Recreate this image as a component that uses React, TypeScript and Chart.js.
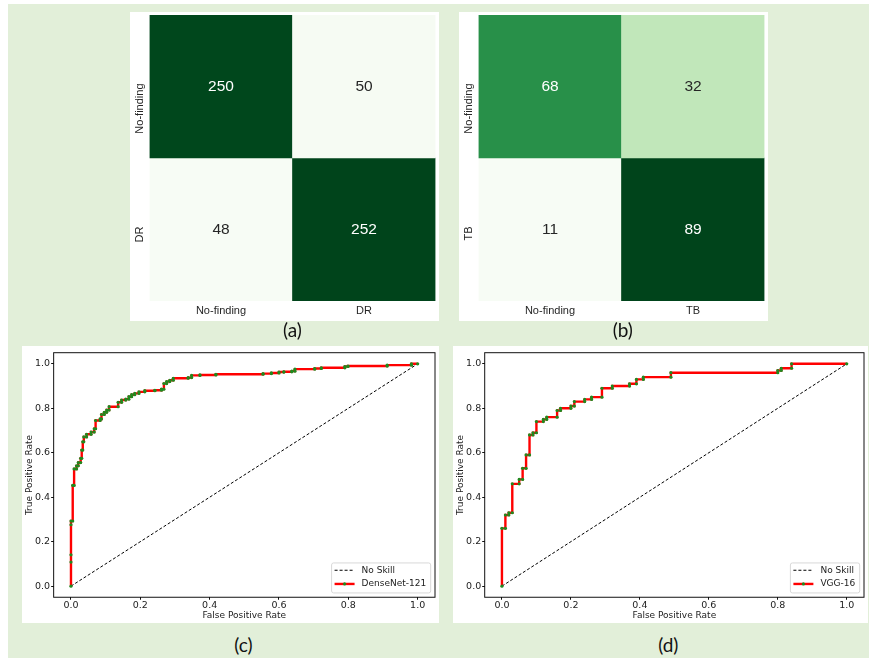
import React, { useEffect, useRef } from 'react';
import { Chart, registerables } from 'chart.js';

Chart.register(...registerables);

// ---------- data ----------
const cmARowLabels = ['No-finding', 'DR'];
const cmAColLabels = ['No-finding', 'DR'];
const cmAValues = [
  [250, 50],
  [48, 252],
];

const cmBRowLabels = ['No-finding', 'TB'];
const cmBColLabels = ['No-finding', 'TB'];
const cmBValues = [
  [68, 32],
  [11, 89],
];

const rocTicks = [0, 0.2, 0.4, 0.6, 0.8, 1.0];
const noSkillFpr = [0, 1];
const noSkillTpr = [0, 1];

const densenetLabel = 'DenseNet-121';
const densenetFpr = [
  0, 0, 0, 0, 0,
  0.005, 0.005, 0.009, 0.009, 0.016, 0.016, 0.021, 0.021, 0.028, 0.028,
  0.031, 0.031, 0.034, 0.034, 0.037, 0.037, 0.045, 0.045, 0.058, 0.058,
  0.067, 0.067, 0.071, 0.071, 0.084, 0.084, 0.088, 0.088, 0.096, 0.096,
  0.103, 0.103, 0.110, 0.110, 0.136, 0.136, 0.146, 0.146, 0.158, 0.158,
  0.167, 0.167, 0.175, 0.175, 0.184, 0.184, 0.196, 0.196, 0.213, 0.213,
  0.242, 0.242, 0.261, 0.261, 0.268, 0.268, 0.276, 0.276, 0.285, 0.285,
  0.295, 0.295, 0.338, 0.338, 0.348, 0.348, 0.372, 0.372, 0.418, 0.418,
  0.554, 0.554, 0.578, 0.578, 0.600, 0.600, 0.614, 0.614, 0.637, 0.637,
  0.646, 0.646, 0.703, 0.703, 0.722, 0.722, 0.790, 0.790, 0.799, 0.799,
  0.912, 0.912, 0.982, 0.982, 1.0,
];
const densenetTpr = [
  0, 0.108, 0.141, 0.276, 0.293,
  0.293, 0.453, 0.453, 0.527, 0.527, 0.541, 0.541, 0.556, 0.556, 0.575,
  0.575, 0.612, 0.612, 0.649, 0.649, 0.671, 0.671, 0.683, 0.683, 0.693,
  0.693, 0.708, 0.708, 0.745, 0.745, 0.752, 0.752, 0.772, 0.772, 0.782,
  0.782, 0.792, 0.792, 0.807, 0.807, 0.827, 0.827, 0.837, 0.837, 0.841,
  0.841, 0.852, 0.852, 0.861, 0.861, 0.867, 0.867, 0.874, 0.874, 0.879,
  0.879, 0.881, 0.881, 0.886, 0.886, 0.911, 0.911, 0.920, 0.920, 0.926,
  0.926, 0.935, 0.935, 0.938, 0.938, 0.948, 0.948, 0.950, 0.950, 0.953,
  0.953, 0.956, 0.956, 0.959, 0.959, 0.963, 0.963, 0.964, 0.964, 0.967,
  0.967, 0.976, 0.976, 0.979, 0.979, 0.982, 0.982, 0.988, 0.988, 0.990,
  0.990, 0.994, 0.994, 1.0, 1.0,
];

const vggLabel = 'VGG-16';
const vggFpr = [
  0, 0, 0.01, 0.01, 0.02, 0.02, 0.03, 0.03, 0.05, 0.05, 0.06, 0.06, 0.07, 0.07,
  0.08, 0.08, 0.09, 0.09, 0.10, 0.10, 0.12, 0.12, 0.13, 0.13, 0.16, 0.16, 0.17, 0.17,
  0.20, 0.20, 0.21, 0.21, 0.24, 0.24, 0.26, 0.26, 0.29, 0.29, 0.32, 0.32, 0.37, 0.37,
  0.39, 0.39, 0.41, 0.41, 0.49, 0.49, 0.80, 0.80, 0.81, 0.81, 0.84, 0.84, 1.0,
];
const vggTpr = [
  0, 0.26, 0.26, 0.32, 0.32, 0.33, 0.33, 0.46, 0.46, 0.48, 0.48, 0.53, 0.53, 0.59,
  0.59, 0.68, 0.68, 0.69, 0.69, 0.74, 0.74, 0.75, 0.75, 0.76, 0.76, 0.79, 0.79, 0.80,
  0.80, 0.81, 0.81, 0.83, 0.83, 0.84, 0.84, 0.85, 0.85, 0.89, 0.89, 0.90, 0.90, 0.91,
  0.91, 0.93, 0.93, 0.94, 0.94, 0.96, 0.96, 0.97, 0.97, 0.98, 0.98, 1.0, 1.0,
];

// ---------- styling helpers ----------
const GREENS = ['#f7fcf5', '#e5f5e0', '#c7e9c0', '#a1d99b', '#74c476', '#41ab5d', '#238b45', '#006d2c', '#00441b'];
function hexToRgb(h: string) {
  const n = parseInt(h.slice(1), 16);
  return [(n >> 16) & 255, (n >> 8) & 255, n & 255];
}
function greens(t: number) {
  const tt = Math.max(0, Math.min(1, t)) * (GREENS.length - 1);
  const i = Math.min(GREENS.length - 2, Math.floor(tt));
  const f = tt - i;
  const a = hexToRgb(GREENS[i]);
  const b = hexToRgb(GREENS[i + 1]);
  const c = a.map((v, k) => Math.round(v + (b[k] - v) * f));
  return `rgb(${c[0]},${c[1]},${c[2]})`;
}

const HM_FONT = '"Liberation Sans", Arial, sans-serif';
const ROC_FONT = '"DejaVu Sans", sans-serif';

function heatmapConfig(rows: string[], cols: string[], values: number[][]) {
  const flat = values.flat();
  const vmin = Math.min(...flat);
  const vmax = Math.max(...flat);
  const n = values.length;
  const datasets = values.map((row, r) => ({
    label: rows[r],
    data: row.map(() => [n - 1 - r, n - r]),
    backgroundColor: row.map((v) => greens((v - vmin) / (vmax - vmin))),
    borderWidth: 0,
    barPercentage: 1,
    categoryPercentage: 1,
    grouped: false,
  }));
  const textPlugin = {
    id: 'hmText',
    afterDatasetsDraw(chart: any) {
      const ctx = chart.ctx;
      ctx.save();
      ctx.textAlign = 'center';
      ctx.textBaseline = 'middle';
      ctx.font = `15.5px ${HM_FONT}`;
      values.forEach((row, r) => {
        const meta = chart.getDatasetMeta(r);
        row.forEach((v, c) => {
          const el = meta.data[c];
          const p = el.getProps(['x', 'y', 'base'], true);
          ctx.fillStyle = (v - vmin) / (vmax - vmin) > 0.5 ? '#ffffff' : '#262626';
          ctx.fillText(String(v), p.x, (p.y + p.base) / 2);
        });
      });
      const ys = chart.scales.y;
      ctx.font = `11px ${HM_FONT}`;
      ctx.fillStyle = '#262626';
      ctx.textAlign = 'right';
      rows.forEach((lab, r) => {
        const py = ys.getPixelForValue(n - r - 0.5);
        ctx.save();
        ctx.translate(chart.chartArea.left - 9.8, py - 3);
        ctx.rotate(-Math.PI / 2);
        ctx.fillText(lab, 0, 0);
        ctx.restore();
      });
      ctx.restore();
    },
  };
  return {
    type: 'bar',
    data: { labels: cols, datasets },
    options: {
      animation: false,
      responsive: false,
      devicePixelRatio: 1,
      layout: { padding: { left: 19.5, right: 3.5, top: 3, bottom: 0 } },
      plugins: { legend: { display: false }, tooltip: { enabled: false } },
      scales: {
        x: {
          type: 'category',
          grid: { display: false, drawTicks: false },
          border: { display: false },
          ticks: { font: { family: HM_FONT, size: 11 }, color: '#262626', padding: 3.5 },
          afterFit: (s: any) => { s.height = 20; },
        },
        y: { type: 'linear', min: 0, max: 2, display: false },
      },
    },
    plugins: [textPlugin],
  };
}

const framePlugin = {
  id: 'frame',
  afterDraw(chart: any) {
    const { ctx, chartArea: a } = chart;
    ctx.save();
    ctx.strokeStyle = '#111';
    ctx.lineWidth = 1;
    ctx.strokeRect(a.left, a.top, a.right - a.left, a.bottom - a.top);
    ctx.restore();
  },
};

const legendPlugin = {
  id: 'rocLegend',
  afterDraw(chart: any) {
    const { ctx, chartArea: a } = chart;
    const items = chart.data.datasets;
    ctx.save();
    ctx.font = `9px ${ROC_FONT}`;
    const tw = Math.max(...items.map((d: any) => ctx.measureText(d.label).width));
    const w = 3 + 20 + 7 + tw + 4.5;
    const h = 30;
    const x0 = a.right - 4.3 - w;
    const y0 = a.bottom - 4.3 - h;
    ctx.beginPath();
    ctx.roundRect(x0, y0, w, h, 2);
    ctx.fillStyle = 'rgba(255,255,255,0.85)';
    ctx.fill();
    ctx.strokeStyle = '#d8d8d8';
    ctx.lineWidth = 1;
    ctx.stroke();
    items.forEach((d: any, i: number) => {
      const cy = y0 + 7.3 + i * 13.7;
      ctx.beginPath();
      ctx.setLineDash(d.borderDash || []);
      ctx.strokeStyle = d.borderColor;
      ctx.lineWidth = d.borderWidth;
      ctx.moveTo(x0 + 3, cy);
      ctx.lineTo(x0 + 23, cy);
      ctx.stroke();
      ctx.setLineDash([]);
      if (d.pointRadius > 0) {
        ctx.beginPath();
        ctx.arc(x0 + 13, cy, d.pointRadius, 0, Math.PI * 2);
        ctx.fillStyle = d.pointBackgroundColor;
        ctx.fill();
      }
      ctx.fillStyle = '#222';
      ctx.textAlign = 'left';
      ctx.textBaseline = 'middle';
      ctx.fillText(d.label, x0 + 30, cy);
    });
    ctx.restore();
  },
};

function rocConfig(fpr: number[], tpr: number[], label: string, yWidth: number, padRight: number) {
  const tickFmt = (v: any) => Number(v).toFixed(1);
  const setTicks = (s: any) => { s.ticks = rocTicks.map((v) => ({ value: v })); };
  return {
    type: 'scatter',
    data: {
      datasets: [
        {
          label: 'No Skill',
          data: noSkillFpr.map((x, i) => ({ x, y: noSkillTpr[i] })),
          showLine: true,
          borderColor: '#000000',
          borderWidth: 1,
          borderDash: [3, 2],
          pointRadius: 0,
          order: 1,
        },
        {
          label,
          data: fpr.map((x, i) => ({ x, y: tpr[i] })),
          showLine: true,
          borderColor: '#ff0000',
          borderWidth: 2.4,
          pointRadius: 1.6,
          pointBackgroundColor: '#1f8a1f',
          pointBorderColor: '#1f8a1f',
          pointBorderWidth: 0,
          order: 0,
        },
      ],
    },
    options: {
      animation: false,
      responsive: false,
      devicePixelRatio: 1,
      layout: { padding: { left: 0, right: padRight, top: 3.75, bottom: 0 } },
      plugins: { legend: { display: false }, tooltip: { enabled: false } },
      scales: {
        x: {
          type: 'linear',
          min: -0.05,
          max: 1.05,
          afterBuildTicks: setTicks,
          ticks: { callback: tickFmt, font: { family: ROC_FONT, size: 9.5 }, color: '#222', padding: 0, autoSkip: false, maxRotation: 0 },
          grid: { display: true, drawOnChartArea: false, drawTicks: true, tickLength: 2.5, color: '#111' },
          border: { display: false },
          title: { display: true, text: 'False Positive Rate', font: { family: ROC_FONT, size: 9 }, color: '#222', padding: { top: 0, bottom: 2.4 } },
          afterFit: (s: any) => { s.height = 25.75; },
        },
        y: {
          type: 'linear',
          min: -0.05,
          max: 1.05,
          afterBuildTicks: setTicks,
          ticks: { callback: tickFmt, font: { family: ROC_FONT, size: 9.5 }, color: '#222', padding: 1, autoSkip: false },
          grid: { display: true, drawOnChartArea: false, drawTicks: true, tickLength: 2.5, color: '#111' },
          border: { display: false },
          title: { display: true, text: 'True Positive Rate', font: { family: ROC_FONT, size: 9 }, color: '#222', padding: { top: 2.6, bottom: 0 } },
          afterFit: (s: any) => { s.width = yWidth; },
        },
      },
    },
    plugins: [framePlugin, legendPlugin],
  };
}

function ChartCanvas(props: { left: number; top: number; width: number; height: number; make: () => any }) {
  const ref = useRef<HTMLCanvasElement | null>(null);
  useEffect(() => {
    const chart = new Chart(ref.current as HTMLCanvasElement, props.make());
    return () => chart.destroy();
  }, []);
  return (
    <canvas
      ref={ref}
      width={props.width}
      height={props.height}
      style={{ position: 'absolute', left: props.left, top: props.top, width: props.width, height: props.height, background: '#ffffff', display: 'block' }}
    />
  );
}

function Caption(props: { x: number; y: number; text: string }) {
  return (
    <div
      style={{
        position: 'absolute',
        left: props.x,
        top: props.y,
        transform: 'translate(-50%, -50%)',
        fontFamily: 'Lato, "Open Sans", sans-serif',
        fontSize: 19,
        color: '#111',
        lineHeight: 1,
        whiteSpace: 'nowrap',
      }}
    >
      {props.text}
    </div>
  );
}

export default function App() {
  return (
    <div style={{ position: 'absolute', left: 0, top: 0, width: 870, height: 658, background: '#ffffff', overflow: 'hidden' }}>
      <div style={{ position: 'absolute', left: 8, top: 4, width: 861, height: 654, background: '#e2efd9' }} />
      <ChartCanvas left={130} top={12} width={309} height={309} make={() => heatmapConfig(cmARowLabels, cmAColLabels, cmAValues)} />
      <ChartCanvas left={459} top={12} width={309} height={309} make={() => heatmapConfig(cmBRowLabels, cmBColLabels, cmBValues)} />
      <ChartCanvas left={22} top={346} width={417} height={277} make={() => rocConfig(densenetFpr, densenetTpr, densenetLabel, 31.65, 3.65)} />
      <ChartCanvas left={453} top={346} width={415} height={277} make={() => rocConfig(vggFpr, vggTpr, vggLabel, 31.7, 2.7)} />
      <Caption x={292.5} y={329} text="(a)" />
      <Caption x={622.8} y={329} text="(b)" />
      <Caption x={243.3} y={643.7} text="(c)" />
      <Caption x={668.3} y={643.7} text="(d)" />
    </div>
  );
}
